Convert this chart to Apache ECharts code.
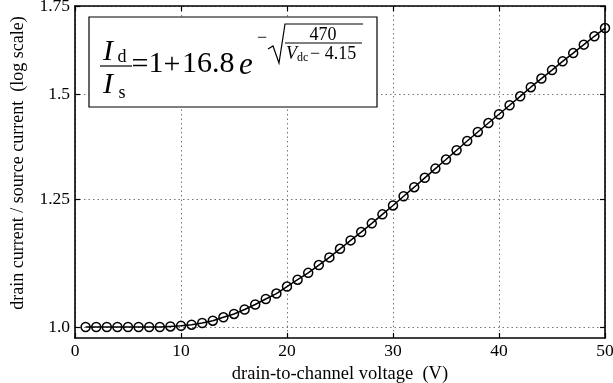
<!DOCTYPE html>
<html>
<head>
<meta charset="utf-8">
<script src="https://cdn.jsdelivr.net/npm/echarts@6/dist/echarts.min.js"></script>
<style>
  html, body { margin: 0; padding: 0; background: #fff; }
  #chart { width: 613px; height: 383px; }
</style>
</head>
<body>
<div id="chart"></div>
<script>
// drain-to-channel voltage (V)
var voltage = [1, 2, 3, 4, 5, 6, 7, 8, 9, 10,
  11, 12, 13, 14, 15, 16, 17, 18, 19, 20,
  21, 22, 23, 24, 25, 26, 27, 28, 29, 30,
  31, 32, 33, 34, 35, 36, 37, 38, 39, 40,
  41, 42, 43, 44, 45, 46, 47, 48, 49, 50];
// drain current / source current
var ratio = [1.000, 1.000, 1.000, 1.000, 1.000, 1.000, 1.000, 1.000, 1.001, 1.002,
  1.004, 1.007, 1.011, 1.017, 1.023, 1.031, 1.040, 1.050, 1.060, 1.073,
  1.086, 1.099, 1.114, 1.129, 1.146, 1.163, 1.180, 1.198, 1.217, 1.236,
  1.256, 1.276, 1.297, 1.318, 1.339, 1.361, 1.383, 1.405, 1.427, 1.449,
  1.472, 1.495, 1.519, 1.542, 1.565, 1.589, 1.612, 1.636, 1.660, 1.684];
var yTickValues = [1.0, 1.25, 1.5, 1.75];
var yTickLabels = ['1.0', '1.25', '1.5', '1.75'];
var yRange = [0.981, 1.75];

var FONT = 'Liberation Serif';

// log scale: plot ln(ratio) on a value axis, label ticks with the raw values
var points = voltage.map(function (v, i) { return [v, Math.log(ratio[i])]; });
var yTicksLn = yTickValues.map(function (v) { return Math.log(v); });

function yLabel(val) {
  for (var i = 0; i < yTicksLn.length; i++) {
    if (Math.abs(val - yTicksLn[i]) < 1e-6) return yTickLabels[i];
  }
  return '';
}

var axisLine = { show: true, onZero: false, lineStyle: { color: '#000', width: 1.6 } };
var tick = { show: true, inside: true, length: 5, lineStyle: { color: '#000', width: 1.2 } };
var grid_line = { show: true, lineStyle: { color: '#777', width: 1, type: [1.5, 3] } };

function txt(s, x, y, size, opts) {
  opts = opts || {};
  return {
    type: 'text', x: x, y: y, z: 100,
    style: {
      text: s, fill: '#000',
      font: (opts.italic ? 'italic ' : '') + size + 'px "' + FONT + '"',
      textAlign: opts.align || 'center', textVerticalAlign: 'middle'
    }
  };
}
function seg(x1, y1, x2, y2, w) {
  return { type: 'line', z: 100, shape: { x1: x1, y1: y1, x2: x2, y2: y2 },
    style: { stroke: '#000', lineWidth: w || 1.2 } };
}

var option = {
  backgroundColor: '#fff',
  animation: false,
  grid: { left: 75, right: 8, top: 6, bottom: 45, containLabel: false, outerBoundsMode: 'none' },
  xAxis: [{
    type: 'value', min: 0, max: 50, interval: 10,
    name: 'drain-to-channel voltage  (V)', nameLocation: 'middle', nameGap: 22,
    nameTextStyle: { fontFamily: FONT, fontSize: 18.5, color: '#000' },
    axisLine: axisLine, axisTick: tick, splitLine: grid_line,
    axisLabel: { fontFamily: FONT, fontSize: 17.5, color: '#000', margin: 4 }
  }, {
    type: 'value', position: 'top', min: 0, max: 50, interval: 10,
    axisLine: axisLine, axisTick: tick, splitLine: { show: false },
    axisLabel: { show: false }
  }],
  yAxis: [{
    type: 'value', min: Math.log(yRange[0]), max: Math.log(yRange[1]),
    name: 'drain current / source current  (log scale)', nameLocation: 'middle', nameGap: 48,
    nameTextStyle: { fontFamily: FONT, fontSize: 18, color: '#000', padding: [0, 0, 0, 18] },
    axisLine: axisLine,
    axisTick: { show: true, inside: true, length: 5, lineStyle: { color: '#000', width: 1.2 }, customValues: yTicksLn },
    splitLine: grid_line,
    axisLabel: { fontFamily: FONT, fontSize: 17.5, color: '#000', margin: 5, customValues: yTicksLn, formatter: yLabel }
  }, {
    type: 'value', position: 'right', min: Math.log(yRange[0]), max: Math.log(yRange[1]),
    axisLine: axisLine,
    axisTick: { show: true, inside: true, length: 5, lineStyle: { color: '#000', width: 1.2 }, customValues: yTicksLn },
    splitLine: { show: false },
    axisLabel: { show: false, customValues: yTicksLn }
  }],
  series: [{
    type: 'line',
    data: points,
    symbol: 'circle',
    symbolSize: 9,
    lineStyle: { color: '#000', width: 1.5 },
    itemStyle: { color: 'rgba(0,0,0,0)', borderColor: '#000', borderWidth: 1.5 }
  }],
  graphic: [
    { type: 'rect', z: 90, shape: { x: 89, y: 17, width: 288, height: 90 },
      style: { fill: '#fff', stroke: '#000', lineWidth: 1.2 } },
    // I_d / I_s
    txt('I', 108, 52, 30, { italic: true }),
    txt('d', 122, 57, 18),
    seg(100, 66, 132, 66),
    txt('I', 108, 85, 30, { italic: true }),
    txt('s', 122, 93, 18),
    // = 1 + 16.8 e
    txt('=', 140, 65, 30),
    txt('1', 156, 64, 30),
    txt('+', 172, 65, 30),
    txt('16.8', 182, 64, 30, { align: 'left' }),
    txt('e', 239, 66, 31, { italic: true, align: 'left' }),
    // exponent: - sqrt(470 / (V_dc - 4.15))
    txt('\u2212', 262, 38, 18),
    { type: 'polyline', z: 100, shape: { points: [[268, 49], [273, 46], [279, 63], [285, 24], [363, 24]] },
      style: { stroke: '#000', lineWidth: 1.2, fill: null } },
    txt('470', 323, 35, 18),
    seg(285, 43, 362, 43, 1.1),
    txt('V', 286, 54, 18, { italic: true, align: 'left' }),
    txt('dc', 297, 58, 12, { align: 'left' }),
    txt('\u2212 4.15', 310, 54, 18, { align: 'left' })
  ]
};

var myChart = echarts.init(document.getElementById('chart'));
myChart.setOption(option);
</script>
</body>
</html>
